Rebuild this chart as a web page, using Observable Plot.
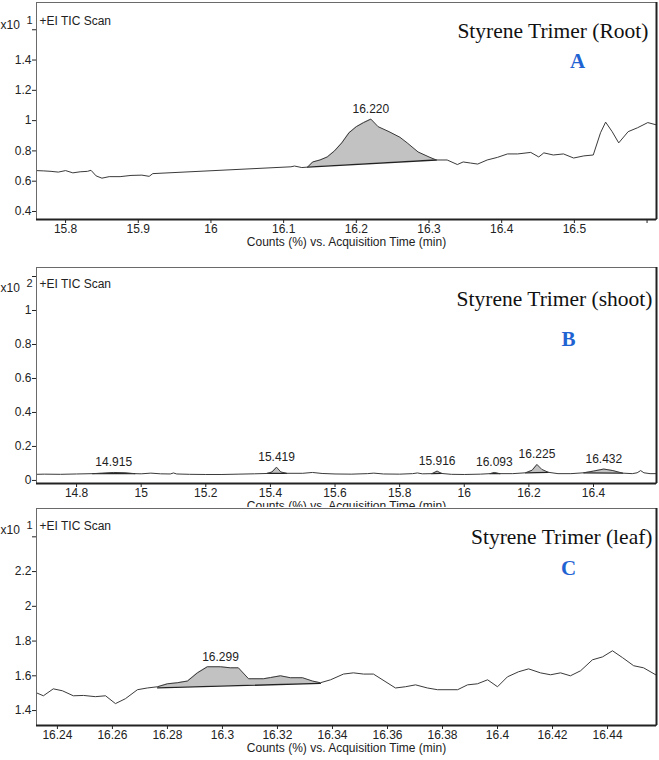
<!DOCTYPE html>
<html>
<head>
<meta charset="utf-8">
<script src="https://cdn.jsdelivr.net/npm/d3@7"></script>
<script src="https://cdn.jsdelivr.net/npm/@observablehq/plot@0.6"></script>
<style>
  html, body { margin: 0; padding: 0; background: white; }
  #wrap { position: relative; width: 659px; height: 760px; overflow: hidden; background: white; }
  #wrap > svg { position: absolute; left: 0; }
  #wrap svg [aria-label*="axis"] text { font-size: 12px; fill: #222; }
</style>
</head>
<body>
<div id="wrap"></div>
<script>
// ---------------- DATA ----------------
// Panel A: Styrene Trimer (Root)
const rootTime = [15.76,15.77,15.78,15.79,15.80,15.81,15.82,15.83,15.835,15.842,15.85,15.86,15.875,15.89,15.905,15.915,15.92,16.11,16.115,16.125,16.133,16.14,16.15,16.16,16.17,16.18,16.19,16.20,16.21,16.22,16.23,16.245,16.26,16.27,16.285,16.30,16.31,16.325,16.339,16.347,16.357,16.367,16.38,16.394,16.408,16.422,16.44,16.451,16.458,16.471,16.485,16.499,16.513,16.526,16.536,16.543,16.552,16.561,16.574,16.587,16.601,16.612];
const rootCounts = [0.67,0.668,0.665,0.66,0.67,0.655,0.662,0.665,0.672,0.635,0.62,0.63,0.63,0.638,0.64,0.632,0.65,0.695,0.70,0.69,0.693,0.727,0.74,0.76,0.80,0.853,0.92,0.96,0.987,1.01,0.96,0.927,0.89,0.853,0.793,0.76,0.74,0.74,0.71,0.727,0.72,0.713,0.74,0.757,0.78,0.78,0.79,0.76,0.787,0.773,0.78,0.753,0.767,0.773,0.92,0.99,0.927,0.853,0.927,0.953,0.987,0.973];
const rootPeakStart = [16.133];
const rootPeakEnd = [16.31];
const rootPeakBaseStart = [0.693];
const rootPeakBaseEnd = [0.74];
const rootPeakLabels = ["16.220"];
const rootPeakTimes = [16.22];
const rootXTicks = [15.8,15.9,16,16.1,16.2,16.3,16.4,16.5,16.6];
const rootXTickLabels = ["15.8","15.9","16","16.1","16.2","16.3","16.4","16.5",""];
const rootYTicks = [0.4,0.6,0.8,1,1.2,1.4,1.6];
const rootYTickLabels = ["0.4","0.6","0.8","1","1.2","1.4",""];

// Panel B: Styrene Trimer (shoot)
const shootTime = [14.676,14.70,14.75,14.80,14.85,14.88,14.915,14.95,14.98,15.00,15.03,15.06,15.09,15.10,15.11,15.15,15.20,15.25,15.30,15.35,15.39,15.405,15.419,15.432,15.45,15.50,15.53,15.56,15.60,15.65,15.70,15.72,15.75,15.80,15.84,15.855,15.87,15.90,15.916,15.93,15.96,16.00,16.05,16.08,16.093,16.11,16.15,16.19,16.21,16.225,16.24,16.26,16.29,16.33,16.37,16.40,16.432,16.46,16.49,16.52,16.535,16.546,16.556,16.575,16.595];
const shootCounts = [0.036,0.037,0.036,0.038,0.040,0.043,0.047,0.045,0.040,0.039,0.043,0.039,0.038,0.044,0.038,0.036,0.035,0.035,0.037,0.039,0.041,0.05,0.078,0.05,0.042,0.042,0.047,0.041,0.038,0.037,0.040,0.043,0.038,0.037,0.040,0.044,0.039,0.040,0.055,0.041,0.036,0.035,0.037,0.040,0.047,0.040,0.040,0.045,0.06,0.094,0.065,0.048,0.040,0.040,0.045,0.055,0.067,0.058,0.043,0.040,0.045,0.058,0.045,0.040,0.040];
const shootPeakStart = [14.85,15.39,15.90,16.08,16.19,16.37];
const shootPeakEnd = [14.98,15.45,15.93,16.11,16.26,16.49];
const shootPeakBaseStart = [0.040,0.041,0.040,0.040,0.045,0.045];
const shootPeakBaseEnd = [0.040,0.042,0.041,0.040,0.048,0.043];
const shootPeakLabels = ["14.915","15.419","15.916","16.093","16.225","16.432"];
const shootPeakTimes = [14.915,15.419,15.916,16.093,16.225,16.432];
const shootXTicks = [14.8,15,15.2,15.4,15.6,15.8,16,16.2,16.4];
const shootXTickLabels = ["14.8","15","15.2","15.4","15.6","15.8","16","16.2","16.4"];
const shootYTicks = [0,0.2,0.4,0.6,0.8,1,1.2];
const shootYTickLabels = ["0","0.2","0.4","0.6","0.8","1",""];

// Panel C: Styrene Trimer (leaf)
const leafTime = [16.2324,16.2349,16.2385,16.2418,16.2458,16.2495,16.2538,16.2575,16.2611,16.2647,16.2691,16.2727,16.2764,16.28,16.2836,16.2873,16.2909,16.2945,16.2993,16.3029,16.3058,16.3095,16.3149,16.3175,16.3211,16.3247,16.3291,16.3327,16.3356,16.3393,16.344,16.3476,16.3513,16.3549,16.3629,16.3665,16.3702,16.3745,16.3782,16.3855,16.3891,16.3927,16.3964,16.40,16.4036,16.4076,16.4113,16.4156,16.4193,16.4229,16.4265,16.4302,16.4345,16.4382,16.4418,16.4455,16.4495,16.4531,16.4575];
const leafCounts = [1.502,1.485,1.525,1.514,1.485,1.487,1.48,1.485,1.44,1.468,1.52,1.53,1.537,1.554,1.56,1.57,1.617,1.652,1.652,1.646,1.646,1.583,1.583,1.59,1.60,1.589,1.589,1.57,1.56,1.577,1.61,1.617,1.61,1.61,1.53,1.537,1.548,1.53,1.52,1.52,1.548,1.554,1.577,1.537,1.594,1.623,1.64,1.617,1.606,1.617,1.60,1.629,1.692,1.709,1.744,1.704,1.658,1.646,1.606];
const leafPeakStart = [16.2764];
const leafPeakEnd = [16.3356];
const leafPeakBaseStart = [1.531];
const leafPeakBaseEnd = [1.556];
const leafPeakLabels = ["16.299"];
const leafPeakTimes = [16.2993];
const leafXTicks = [16.24,16.26,16.28,16.3,16.32,16.34,16.36,16.38,16.4,16.42,16.44];
const leafXTickLabels = ["16.24","16.26","16.28","16.3","16.32","16.34","16.36","16.38","16.4","16.42","16.44"];
const leafYTicks = [1.4,1.6,1.8,2,2.2,2.4];
const leafYTickLabels = ["1.4","1.6","1.8","2","2.2",""];

const titles = ["Styrene Trimer (Root)", "Styrene Trimer (shoot)", "Styrene Trimer (leaf)"];
const letters = ["A", "B", "C"];
const exponents = ["1", "2", "1"];
const scanLabel = "+EI TIC Scan";
const xAxisTitle = "Counts (%) vs. Acquisition Time (min)";

// ---------------- DRAW ----------------
const SANS = "'Liberation Sans', Arial, sans-serif";
const SERIF = "'Liberation Serif', 'Times New Roman', serif";

function panel(cfg) {
  const pts = cfg.time.map((t, i) => ({t, v: cfg.counts[i]}));
  const marks = [];
  // integrated peak areas
  cfg.peakStart.forEach((s, k) => {
    const e = cfg.peakEnd[k], b0 = cfg.baseStart[k], b1 = cfg.baseEnd[k];
    const seg = pts.filter(p => p.t >= s - 1e-9 && p.t <= e + 1e-9)
      .map(p => ({t: p.t, v: p.v, b: b0 + (b1 - b0) * (p.t - s) / (e - s)}));
    marks.push(Plot.areaY(seg, {x: "t", y1: "b", y2: "v", fill: "#c2c2c2"}));
    marks.push(Plot.line([{t: s, v: b0}, {t: e, v: b1}], {x: "t", y: "v", stroke: "#222", strokeWidth: 1.3}));
  });
  marks.push(Plot.line(pts, {x: "t", y: "v", stroke: "#3a3a3a", strokeWidth: 1}));
  // peak labels
  const lab = cfg.peakTimes.map((t, k) => {
    let best = pts[0];
    pts.forEach(p => { if (Math.abs(p.t - t) < Math.abs(best.t - t)) best = p; });
    return {t, v: best.v, s: cfg.peakLabels[k]};
  });
  marks.push(Plot.text(lab, {x: "t", y: "v", text: "s", dy: -10, fontSize: 12, fill: "#222", fontFamily: SANS}));
  // frame
  marks.push(Plot.frame({stroke: "#6a6a6a"}));
  marks.push(Plot.ruleY([cfg.yDomain[0]], {stroke: "#222", strokeWidth: 2}));
  marks.push(Plot.ruleX([cfg.xDomain[1]], {stroke: "#222", strokeWidth: 2}));
  // header texts
  marks.push(Plot.text([scanLabel], {text: d => d, frameAnchor: "top-left", dx: 3, dy: cfg.scanDy, textAnchor: "start", fontSize: 12, fill: "#222", fontFamily: SANS}));
  marks.push(Plot.text(["x10"], {text: d => d, frameAnchor: "top-left", dx: -36, dy: cfg.scanDy + 4, textAnchor: "start", fontSize: 12, fill: "#222", fontFamily: SANS}));
  marks.push(Plot.text([cfg.exponent], {text: d => d, frameAnchor: "top-left", dx: -7, dy: cfg.scanDy, textAnchor: "middle", fontSize: 11, fill: "#222", fontFamily: SANS}));
  marks.push(Plot.text([cfg.title], {text: d => d, frameAnchor: "top-right", dx: cfg.titleDx, dy: cfg.titleDy, textAnchor: "end", fontSize: 21.5, fill: "#111", fontFamily: SERIF}));
  marks.push(Plot.text([cfg.letter], {text: d => d, frameAnchor: "top-right", dx: cfg.letterDx, dy: cfg.letterDy, textAnchor: "middle", fontSize: 21, fontWeight: "bold", fill: "#1f63d3", fontFamily: SERIF}));
  marks.push(Plot.text([xAxisTitle], {text: d => d, frameAnchor: "bottom", dy: cfg.axisTitleDy, fontSize: 12, fill: "#222", fontFamily: SANS}));

  const xMap = new Map(cfg.xTicks.map((d, i) => [d, cfg.xLabels[i]]));
  const yMap = new Map(cfg.yTicks.map((d, i) => [d, cfg.yLabels[i]]));
  const svg = Plot.plot({
    width: 659, height: cfg.height,
    marginTop: cfg.marginTop, marginBottom: cfg.marginBottom, marginLeft: 36, marginRight: 3,
    style: {fontFamily: SANS, fontSize: "12px", color: "#222", background: "white", overflow: "hidden"},
    x: {domain: cfg.xDomain, ticks: cfg.xTicks, tickFormat: d => xMap.has(d) ? xMap.get(d) : "", tickSize: 4, tickPadding: 1, label: null},
    y: {domain: cfg.yDomain, ticks: cfg.yTicks, tickFormat: d => yMap.has(d) ? yMap.get(d) : "", tickSize: 4, tickPadding: 1, label: null},
    marks
  });
  svg.style.top = cfg.top + "px";
  return svg;
}

const wrap = document.getElementById("wrap");
wrap.appendChild(panel({
  top: 0, height: 250, marginTop: 2, marginBottom: 31,
  time: rootTime, counts: rootCounts,
  peakStart: rootPeakStart, peakEnd: rootPeakEnd, baseStart: rootPeakBaseStart, baseEnd: rootPeakBaseEnd,
  peakLabels: rootPeakLabels, peakTimes: rootPeakTimes,
  xDomain: [15.76, 16.613], yDomain: [0.347, 1.78],
  xTicks: rootXTicks, xLabels: rootXTickLabels, yTicks: rootYTicks, yLabels: rootYTickLabels,
  title: titles[0], letter: letters[0], exponent: exponents[0],
  scanDy: 14, titleDx: -8, titleDy: 20, letterDx: -79, letterDy: 51, axisTitleDy: 26
}));
wrap.appendChild(panel({
  top: 250, height: 258, marginTop: 17, marginBottom: 25,
  time: shootTime, counts: shootCounts,
  peakStart: shootPeakStart, peakEnd: shootPeakEnd, baseStart: shootPeakBaseStart, baseEnd: shootPeakBaseEnd,
  peakLabels: shootPeakLabels, peakTimes: shootPeakTimes,
  xDomain: [14.676, 16.595], yDomain: [-0.018, 1.253],
  xTicks: shootXTicks, xLabels: shootXTickLabels, yTicks: shootYTicks, yLabels: shootYTickLabels,
  title: titles[1], letter: letters[1], exponent: exponents[1],
  scanDy: 12, titleDx: -4, titleDy: 23, letterDx: -88, letterDy: 64, axisTitleDy: 26
}));
wrap.appendChild(panel({
  top: 507, height: 253, marginTop: 1, marginBottom: 35,
  time: leafTime, counts: leafCounts,
  peakStart: leafPeakStart, peakEnd: leafPeakEnd, baseStart: leafPeakBaseStart, baseEnd: leafPeakBaseEnd,
  peakLabels: leafPeakLabels, peakTimes: leafPeakTimes,
  xDomain: [16.2324, 16.4578], yDomain: [1.314, 2.563],
  xTicks: leafXTicks, xLabels: leafXTickLabels, yTicks: leafYTicks, yLabels: leafYTickLabels,
  title: titles[2], letter: letters[2], exponent: exponents[2],
  scanDy: 13, titleDx: -4, titleDy: 20, letterDx: -88, letterDy: 52, axisTitleDy: 26
}));
</script>
</body>
</html>
